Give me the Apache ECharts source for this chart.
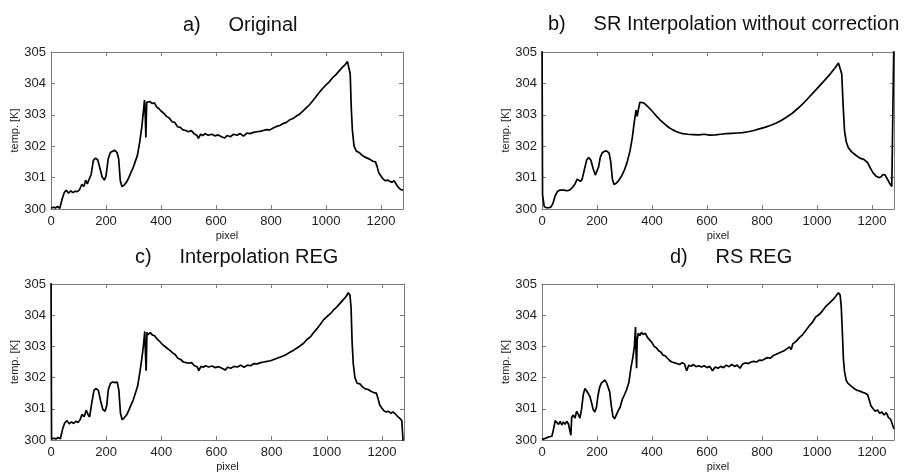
<!DOCTYPE html>
<html>
<head>
<meta charset="utf-8">
<script src="https://cdn.jsdelivr.net/npm/echarts@6/dist/echarts.min.js"></script>
<style>
  html, body { margin: 0; padding: 0; background: #fff; }
  #chart { width: 923px; height: 473px; }
</style>
</head>
<body>
<div id="chart"></div>
<script>
// panel titles
const panelTitles = ['a)     Original', 'b)     SR Interpolation without correction', 'c)     Interpolation REG', 'd)     RS REG'];
const xTicks = [0, 200, 400, 600, 800, 1000, 1200];
const yTicks = [300, 301, 302, 303, 304, 305];

// a) original
const origX = [0,8,16,24,32,40,48,56,64,72,80,88,96,104,112,120,126,132,138,146,154,162,170,178,186,194,200,208,216,224,232,240,246,252,258,266,274,282,290,298,306,314,322,330,336,340,343,345,348,352,360,368,376,384,392,400,410,420,430,440,450,460,470,480,490,500,510,520,530,536,544,552,560,572,584,596,608,620,632,640,652,664,676,688,700,712,724,736,748,760,772,784,796,808,820,832,844,856,868,880,892,904,916,928,940,952,964,976,988,1000,1012,1024,1036,1048,1060,1070,1078,1084,1088,1092,1096,1102,1110,1120,1130,1140,1150,1160,1170,1180,1186,1192,1200,1208,1216,1224,1232,1240,1248,1256,1264,1272,1280];
const origT = [300.02,300.06,300.03,300.08,300.02,300.3,300.52,300.6,300.5,300.58,300.52,300.57,300.55,300.62,300.78,300.72,300.92,300.8,300.74,301.1,301.55,301.62,301.56,301.3,301.02,300.92,301.05,301.6,301.8,301.84,301.87,301.8,301.6,300.9,300.72,300.76,300.85,300.98,301.15,301.3,301.5,301.7,302.1,302.6,303.1,303.47,302.9,302.28,303.4,303.36,303.42,303.36,303.38,303.25,303.2,303.12,303.05,302.95,302.9,302.78,302.76,302.62,302.6,302.52,302.5,302.46,302.5,302.4,302.35,302.25,302.38,302.34,302.4,302.35,302.38,302.33,302.36,302.3,302.26,302.34,302.3,302.38,302.35,302.4,302.32,302.42,302.4,302.44,302.46,302.47,302.5,302.53,302.52,302.58,302.63,302.66,302.72,302.76,302.84,302.88,302.96,303.02,303.12,303.22,303.32,303.45,303.58,303.72,303.84,303.95,304.05,304.18,304.28,304.4,304.52,304.6,304.7,304.66,304.3,303.2,302.5,302.0,301.85,301.8,301.72,301.66,301.62,301.58,301.52,301.5,301.35,301.15,301.05,300.95,300.9,300.92,300.88,300.85,300.9,300.78,300.68,300.62,300.6];

// b) SR interpolation without correction
const srX = [0,2,8,16,24,32,40,48,56,64,72,80,90,100,110,120,128,134,140,146,154,162,170,178,186,194,200,206,212,220,228,236,244,250,256,262,270,280,290,300,310,320,328,336,342,346,350,356,362,370,380,392,404,416,428,440,452,464,476,488,500,512,530,550,570,590,610,630,650,670,690,710,730,750,770,790,810,830,850,870,890,910,930,950,970,990,1010,1030,1050,1066,1078,1085,1090,1095,1100,1106,1114,1126,1140,1156,1170,1184,1194,1204,1214,1224,1232,1240,1248,1256,1264,1272,1278,1280];
const srT = [305.6,300.45,300.08,300.04,300.04,300.06,300.18,300.42,300.56,300.6,300.6,300.6,300.58,300.6,300.68,300.8,300.95,300.95,300.88,300.95,301.25,301.55,301.64,301.55,301.28,301.08,301.1,301.35,301.65,301.8,301.84,301.84,301.78,301.5,300.95,300.78,300.82,300.92,301.06,301.25,301.5,301.85,302.25,302.8,303.15,302.95,303.15,303.4,303.42,303.38,303.3,303.2,303.08,302.96,302.85,302.75,302.66,302.58,302.52,302.47,302.43,302.4,302.38,302.37,302.36,302.38,302.35,302.36,302.38,302.4,302.41,302.42,302.43,302.46,302.5,302.55,302.6,302.66,302.73,302.82,302.93,303.05,303.2,303.36,303.55,303.74,303.93,304.12,304.32,304.5,304.65,304.68,304.3,303.3,302.5,302.15,301.95,301.82,301.72,301.62,301.58,301.48,301.3,301.15,301.05,301.0,301.02,301.1,301.08,300.95,300.82,300.72,300.68,305.6];

// c) interpolation REG
const regX = [0,2,10,18,26,34,42,50,58,66,74,82,90,98,106,112,120,128,134,140,148,156,164,172,180,188,196,202,208,216,224,232,240,246,252,258,266,274,282,290,298,306,314,322,330,336,340,342,345,348,352,360,368,376,384,392,400,410,420,430,440,450,460,470,480,490,500,510,520,530,536,544,552,560,572,584,596,608,620,632,640,652,664,676,688,700,712,724,736,748,760,772,784,796,808,820,832,844,856,868,880,892,904,916,928,940,952,964,976,988,1000,1012,1024,1036,1048,1060,1070,1078,1084,1088,1092,1096,1102,1110,1120,1130,1140,1150,1160,1170,1180,1186,1192,1200,1208,1216,1224,1232,1240,1248,1256,1264,1272,1278,1280];
const regT = [305.6,300.02,300.06,300.03,300.08,300.04,300.35,300.55,300.62,300.52,300.58,300.53,300.6,300.56,300.66,300.82,300.75,300.95,300.82,300.74,301.2,301.6,301.65,301.58,301.25,300.98,300.92,301.1,301.62,301.82,301.86,301.84,301.86,301.6,300.85,300.65,300.72,300.8,300.95,301.12,301.28,301.5,301.72,302.15,302.65,303.1,303.48,302.9,302.22,303.45,303.38,303.44,303.36,303.34,303.24,303.18,303.1,303.02,302.95,302.88,302.8,302.74,302.62,302.58,302.5,302.48,302.46,302.48,302.38,302.35,302.22,302.36,302.33,302.38,302.34,302.37,302.32,302.35,302.3,302.24,302.33,302.3,302.36,302.34,302.4,302.33,302.4,302.38,302.45,302.44,302.48,302.5,302.52,302.54,302.58,302.62,302.66,302.7,302.76,302.82,302.88,302.95,303.02,303.1,303.22,303.3,303.44,303.56,303.7,303.85,303.95,304.04,304.16,304.26,304.38,304.5,304.6,304.72,304.65,304.25,303.1,302.45,302.0,301.82,301.8,301.7,301.64,301.62,301.56,301.52,301.5,301.32,301.12,301.02,300.93,300.9,300.92,300.86,300.9,300.84,300.76,300.7,300.62,300.6,299.5];

// d) RS REG
const rsX = [0,6,12,18,24,30,36,42,48,54,60,66,72,78,84,90,96,102,105,108,114,120,126,132,138,144,150,156,162,168,174,180,186,192,198,204,210,216,222,228,234,240,246,252,258,264,270,276,284,292,300,308,316,324,330,336,340,342,344,346,350,356,362,368,376,384,392,400,408,416,424,432,440,448,456,464,472,480,490,500,510,518,526,534,542,550,560,570,580,590,600,610,620,630,640,650,660,670,680,690,700,710,720,730,740,750,760,770,780,790,800,810,820,830,840,850,860,870,880,890,900,906,912,924,936,948,960,972,984,996,1008,1020,1032,1044,1056,1066,1072,1078,1084,1088,1092,1096,1100,1106,1112,1120,1128,1136,1144,1152,1160,1168,1176,1184,1190,1196,1204,1212,1220,1228,1236,1244,1252,1260,1268,1274,1280];
const rsT = [300.02,299.98,300.05,300.02,300.1,300.06,300.12,300.35,300.62,300.58,300.5,300.6,300.48,300.58,300.5,300.6,300.52,300.58,300.15,300.72,300.8,300.7,300.92,300.82,300.7,301.0,301.45,301.65,301.58,301.62,301.4,301.2,300.98,300.9,301.05,301.45,301.7,301.82,301.88,301.92,301.85,301.8,301.55,301.1,300.75,300.68,300.8,300.92,301.05,301.3,301.45,301.62,301.85,302.35,302.62,303.0,303.62,302.8,302.3,303.2,303.42,303.35,303.45,303.38,303.42,303.28,303.2,303.12,303.0,302.96,302.86,302.82,302.72,302.7,302.62,302.55,302.5,302.48,302.45,302.42,302.48,302.44,302.22,302.4,302.36,302.42,302.35,302.38,302.34,302.38,302.32,302.36,302.22,302.34,302.3,302.36,302.32,302.4,302.35,302.42,302.36,302.4,302.3,302.44,302.47,302.45,302.5,302.52,302.5,302.56,302.55,302.6,302.64,302.62,302.7,302.74,302.78,302.82,302.86,302.92,302.98,302.9,303.08,303.16,303.28,303.38,303.52,303.66,303.78,303.95,304.02,304.14,304.28,304.38,304.48,304.58,304.62,304.72,304.65,304.3,303.5,302.6,302.2,301.92,301.82,301.76,301.7,301.64,301.6,301.58,301.55,301.52,301.5,301.45,301.28,301.1,301.0,300.92,300.96,300.86,300.9,300.8,300.88,300.72,300.66,300.7,300.35];

const seriesX = [origX, srX, regX, rsX];
const seriesT = [origT, srT, regT, rsT];

const grids = [
  { left: 51, top: 52, width: 352, height: 157 },
  { left: 542, top: 52, width: 352, height: 157 },
  { left: 51, top: 284, width: 353, height: 157 },
  { left: 542, top: 284, width: 352, height: 157 }
];
const titlePos = [[183, 15], [548, 14], [135, 247], [670, 247]];

const font = 'Liberation Sans, Arial, sans-serif';
const axisGray = '#7a7a7a';

let xAxes = [], yAxes = [], series = [], titles = [];
grids.forEach((g, i) => {
  titles.push({
    text: panelTitles[i],
    left: titlePos[i][0], top: titlePos[i][1], padding: 0,
    textStyle: { fontFamily: font, fontSize: 20, fontWeight: 'normal', color: '#111' }
  });
  // bottom + top x axes
  xAxes.push({
    type: 'value', gridIndex: i, min: 0, max: 1280, interval: 200, position: 'bottom',
    name: 'pixel', nameLocation: 'middle', nameGap: 21,
    nameTextStyle: { fontFamily: font, fontSize: 11, color: '#222' },
    axisLine: { onZero: false, lineStyle: { color: axisGray, width: 1 } },
    axisTick: { inside: true, length: 4, lineStyle: { color: axisGray } },
    axisLabel: {
      fontFamily: font, fontSize: 13, color: '#222', margin: 6, showMaxLabel: false,
      formatter: v => xTicks.includes(v) ? String(v) : ''
    },
    splitLine: { show: false }
  });
  xAxes.push({
    type: 'value', gridIndex: i, min: 0, max: 1280, interval: 200, position: 'top',
    axisLine: { onZero: false, lineStyle: { color: axisGray, width: 1 } },
    axisTick: { inside: true, length: 4, lineStyle: { color: axisGray } },
    axisLabel: { show: false }, splitLine: { show: false }
  });
  // left + right y axes
  yAxes.push({
    type: 'value', gridIndex: i, min: 300, max: 305, interval: 1, position: 'left',
    name: 'temp. [K]', nameLocation: 'middle', nameGap: 30, nameRotate: 90,
    nameTextStyle: { fontFamily: font, fontSize: 11, color: '#222' },
    axisLine: { show: true, onZero: false, lineStyle: { color: axisGray, width: 1 } },
    axisTick: { show: true, inside: true, length: 4, lineStyle: { color: axisGray } },
    axisLabel: {
      fontFamily: font, fontSize: 13, color: '#222', margin: 5,
      formatter: v => yTicks.includes(v) ? String(v) : ''
    },
    splitLine: { show: false }
  });
  yAxes.push({
    type: 'value', gridIndex: i, min: 300, max: 305, interval: 1, position: 'right',
    axisLine: { show: true, onZero: false, lineStyle: { color: axisGray, width: 1 } },
    axisTick: { show: true, inside: true, length: 4, lineStyle: { color: axisGray } },
    axisLabel: { show: false }, splitLine: { show: false }
  });
  series.push({
    type: 'line', xAxisIndex: i * 2, yAxisIndex: i * 2,
    data: seriesX[i].map((x, k) => [x, seriesT[i][k]]),
    showSymbol: false, symbol: 'none', clip: true, animation: false,
    lineStyle: { color: '#000', width: 1.7 }
  });
});

const chart = echarts.init(document.getElementById('chart'));
chart.setOption({
  backgroundColor: '#fff',
  animation: false,
  title: titles,
  grid: grids,
  xAxis: xAxes,
  yAxis: yAxes,
  series: series
});
</script>
</body>
</html>
